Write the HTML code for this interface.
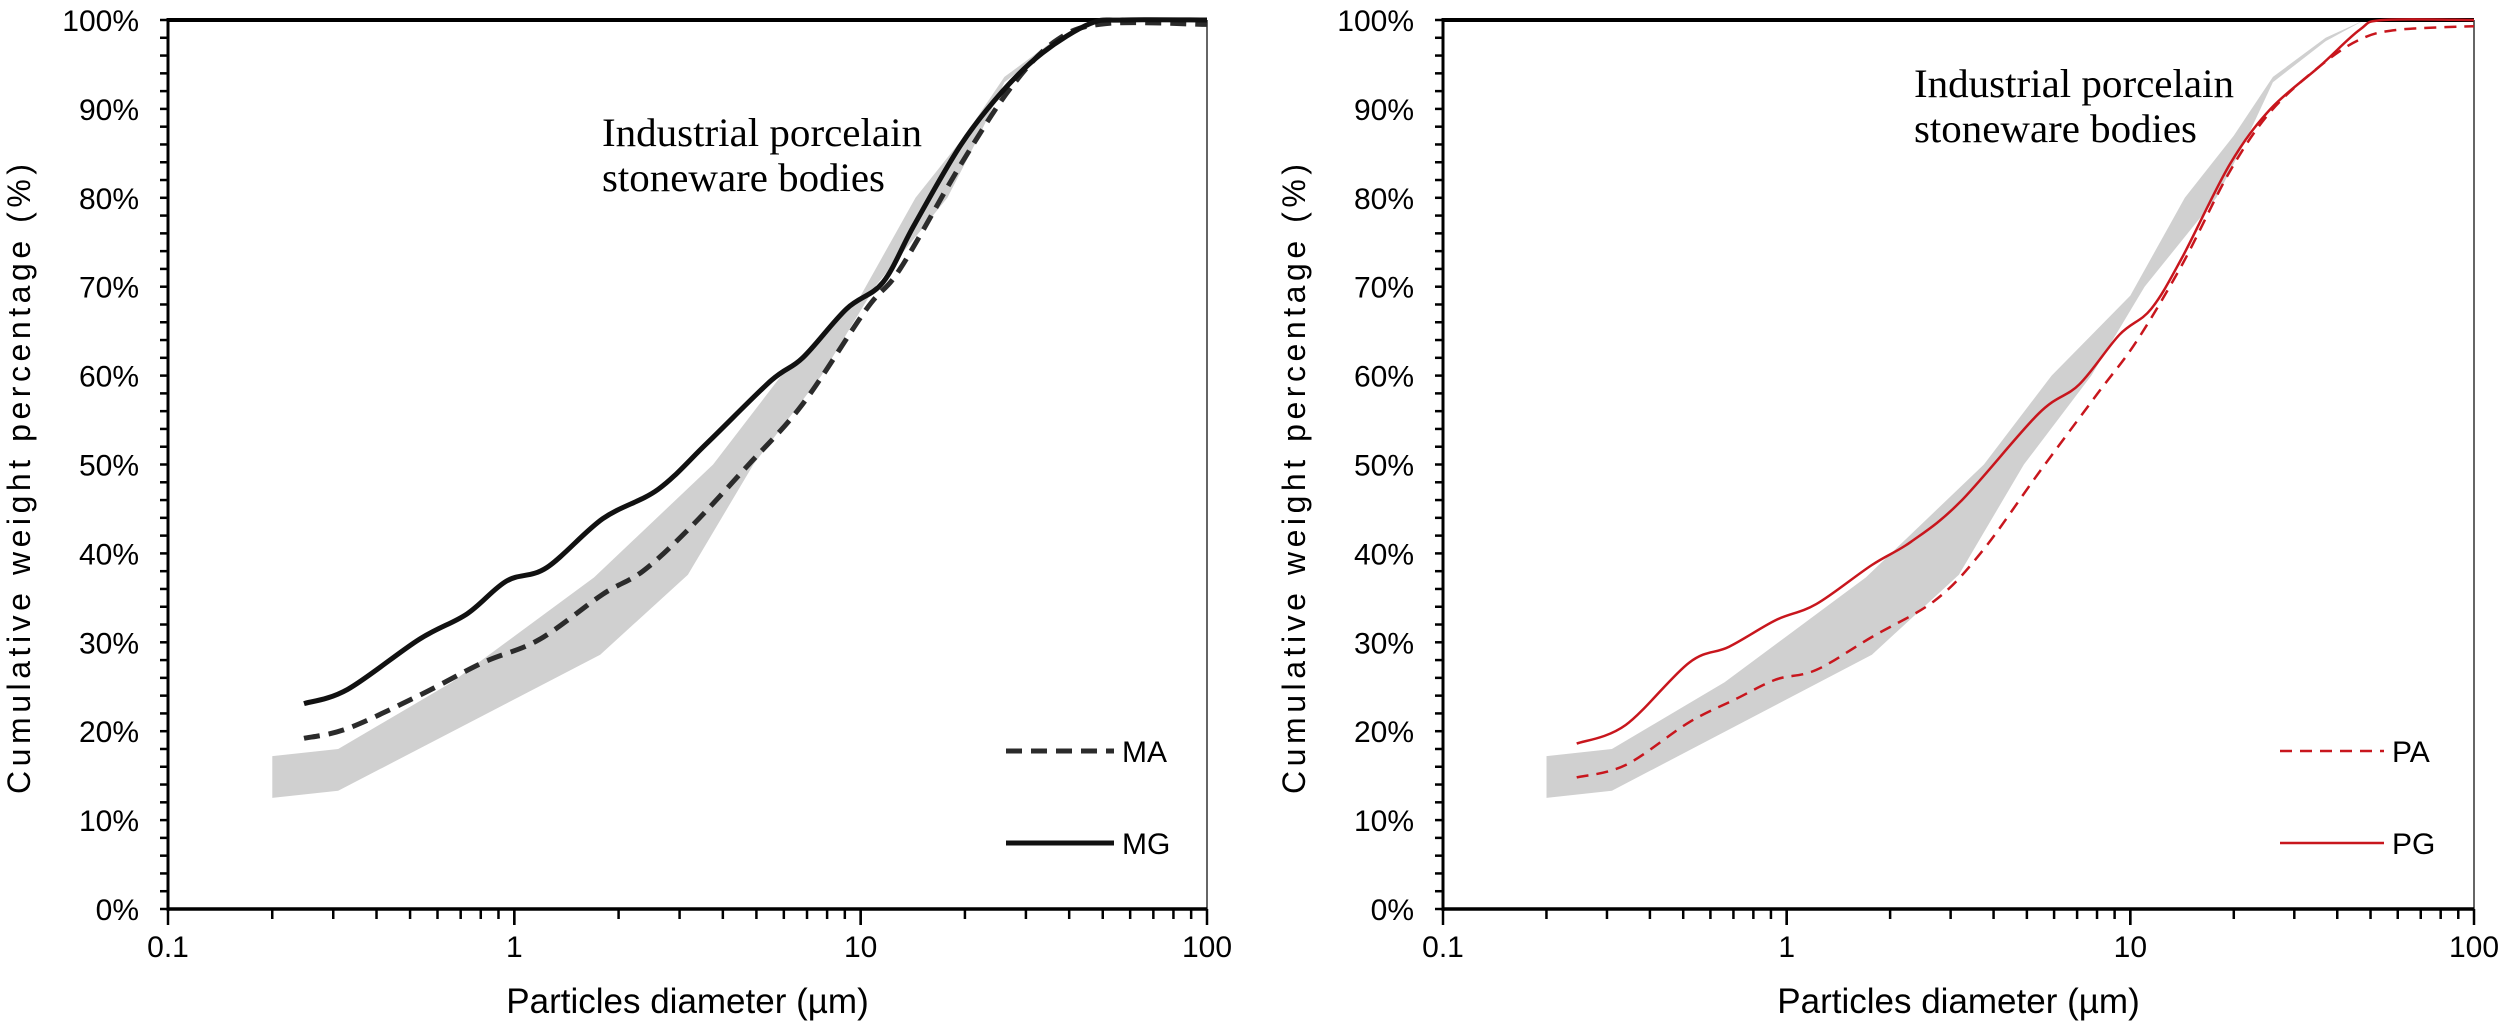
<!DOCTYPE html>
<html><head><meta charset="utf-8"><style>
html,body{margin:0;padding:0;background:#fff;}
svg{display:block;}
</style></head><body>
<svg id="chart" width="2508" height="1029" viewBox="0 0 2508 1029" xmlns="http://www.w3.org/2000/svg" font-family="Liberation Sans, sans-serif"></svg>
<script>
// ---- data ----
const xTicks = [0.1, 1, 10, 100];
const xTickLabels = ["0.1", "1", "10", "100"];
const yTicks = [0,10,20,30,40,50,60,70,80,90,100];
const bandUpperD = [0.2,0.31,0.66,1.7,3.75,5.9,10,14.4,20,26,37,48,100];
const bandUpperY = [17.2,18,25.5,37.3,50,60,69,80,87,93.6,98,100,100];
const bandLowerD = [0.2,0.31,1.77,3.17,4.9,7.7,11,17.8,22,26,37,48];
const bandLowerY = [12.5,13.3,28.6,37.6,50,60,70,80,87,93,97.6,100];
const mgD = [0.247,0.33,0.53,0.73,0.95,1.24,1.8,2.6,3.6,5.5,6.8,9.1,11.6,14.3,19.5,25.7,33.5,46,57,100];
const mgY = [23.1,24.7,30.3,33.2,36.9,38.4,43.9,47.2,52.4,59.4,62,67.5,70.5,77,86,92,96.3,99.6,100,100];
const maD = [0.247,0.33,0.53,0.81,1.18,1.8,2.35,3.2,4.7,6.8,10.4,13,19.5,27.4,37,51,100];
const maY = [19.2,20.3,24,27.7,30.3,35.4,38,42.8,49.8,56.8,67.5,72,83.8,92.6,97.8,99.6,99.5];
const pgD = [0.245,0.34,0.52,0.68,0.93,1.22,1.77,2.3,3.2,5.4,7.1,9.3,11.5,14.2,19.5,25.6,35.6,46.5,54.5,100];
const pgY = [18.6,20.7,27.7,29.5,32.5,34.3,38.7,41.3,45.8,55.7,59,64.6,67.5,73.4,83.8,90,94.8,98.9,100,100];
const paD = [0.245,0.34,0.52,0.71,0.93,1.22,1.77,2.7,3.7,5.4,8,10.4,14.2,19.5,25.6,35.6,46.5,60,100];
const paY = [14.8,16.2,21,23.6,25.8,26.9,30.6,34.7,40.2,49,57.9,63.8,72.6,83,89.7,94.8,97.8,98.9,99.3];

const NS = "http://www.w3.org/2000/svg";
const svg = document.getElementById("chart");
function mk(tag, attrs, parent){const e=document.createElementNS(NS,tag);for(const k in attrs)e.setAttribute(k,attrs[k]);(parent||svg).appendChild(e);return e;}

function smooth(pts){
  let d="M"+pts[0][0].toFixed(1)+","+pts[0][1].toFixed(1);
  for(let i=0;i<pts.length-1;i++){
    const p0=pts[Math.max(0,i-1)],p1=pts[i],p2=pts[i+1],p3=pts[Math.min(pts.length-1,i+2)];
    const c1x=p1[0]+(p2[0]-p0[0])/6,c1y=p1[1]+(p2[1]-p0[1])/6;
    const c2x=p2[0]-(p3[0]-p1[0])/6,c2y=p2[1]-(p3[1]-p1[1])/6;
    d+=" C"+c1x.toFixed(1)+","+c1y.toFixed(1)+" "+c2x.toFixed(1)+","+c2y.toFixed(1)+" "+p2[0].toFixed(1)+","+p2[1].toFixed(1);
  }
  return d;
}

function panel(cfg){
  const L=cfg.left,R=cfg.right,T=20,B=909;
  const sx=v=>L+(Math.log10(v)+1)/3*(R-L);
  const sy=v=>B-v/100*(B-T);
  const g=mk("g",{});
  
  
  // band
  const up=bandUpperD.map((d,i)=>[sx(d),sy(bandUpperY[i])]);
  const lo=bandLowerD.map((d,i)=>[sx(d),sy(bandLowerY[i])]).reverse();
  const all=up.concat(lo);
  const band=mk("path",{d:"M"+all.map(p=>p[0].toFixed(1)+","+p[1].toFixed(1)).join(" L")+" Z",fill:"#d0d0d0",stroke:"none"},g);
  
  
  // axes
  const frame=mk("path",{d:`M${L},${T} L${R},${T}`,stroke:"#000","stroke-width":4},g);
  
  
  const rl=mk("line",{x1:R,y1:T,x2:R,y2:B,stroke:"#333","stroke-width":1.5},g);
  
  
  const ya=mk("line",{x1:L,y1:T-2,x2:L,y2:B+2,stroke:"#000","stroke-width":3},g);
  
  
  const xa=mk("line",{x1:L,y1:B,x2:R,y2:B,stroke:"#000","stroke-width":3.5},g);
  
  
  for(let v=0;v<=100;v+=2){
    const t=mk("line",{x1:L-8,y1:sy(v),x2:L,y2:sy(v),stroke:"#000","stroke-width":2.5},g);
    
    
  }
  yTicks.forEach(v=>{
    const t=mk("text",{x:L-29,y:sy(v)+11,"text-anchor":"end","font-size":30,fill:"#000"},g);
    t.textContent=v+"%";
    
    
  });
  for(let e=-1;e<2;e++)for(let m=1;m<=10;m++){
    const v=m*Math.pow(10,e);
    const major=(m===1||m===10);
    const t=mk("line",{x1:sx(v),y1:B,x2:sx(v),y2:B+(major?16:10),stroke:"#000","stroke-width":2.5},g);
    
    
  }
  xTicks.forEach((v,i)=>{
    const t=mk("text",{x:sx(v),y:957,"text-anchor":"middle","font-size":30,fill:"#000"},g);
    t.textContent=xTickLabels[i];
    
    
  });
  const xt=mk("text",{x:(L+R)/2,y:1013,"text-anchor":"middle","font-size":35,fill:"#000"},g);
  xt.textContent="Particles diameter (µm)";
  
  
  const yt=mk("text",{x:0,y:0,"text-anchor":"middle","font-size":32,fill:"#000",textLength:630,lengthAdjust:"spacing",transform:`translate(${cfg.ytx},479) rotate(-90)`},g);
  yt.textContent="Cumulative weight percentage (%)";
  
  
  // annotation
  const a1=mk("text",{x:cfg.ax,y:cfg.ay,"font-family":"Liberation Serif, serif","font-size":40,fill:"#000",textLength:320,lengthAdjust:"spacingAndGlyphs"},g);
  a1.textContent="Industrial porcelain";
  
  
  const a2=mk("text",{x:cfg.ax,y:cfg.ay+45,"font-family":"Liberation Serif, serif","font-size":40,fill:"#000",textLength:283,lengthAdjust:"spacingAndGlyphs"},g);
  a2.textContent="stoneware bodies";
  
  
  // series
  const s1=mk("path",{d:smooth(cfg.aD.map((d,i)=>[sx(d),sy(cfg.aY[i])])),fill:"none",stroke:cfg.aColor,"stroke-width":cfg.w,"stroke-dasharray":cfg.dash,"stroke-linecap":"butt"},g);
  
  
  const s2=mk("path",{d:smooth(cfg.gD.map((d,i)=>[sx(d),sy(cfg.gY[i])])),fill:"none",stroke:cfg.gColor,"stroke-width":cfg.w},g);
  
  
  // legend
  const l1=mk("line",{x1:cfg.lx,y1:751,x2:cfg.lx+cfg.lw,y2:751,stroke:cfg.aColor,"stroke-width":cfg.w,"stroke-dasharray":cfg.dash},g);
  
  
  const lt1=mk("text",{x:cfg.lx+cfg.lw+8,y:762,"font-size":30,fill:"#000"},g);
  lt1.textContent=cfg.aLabel;
  
  
  const l2=mk("line",{x1:cfg.lx,y1:843,x2:cfg.lx+cfg.lw,y2:843,stroke:cfg.gColor,"stroke-width":cfg.w},g);
  
  
  const lt2=mk("text",{x:cfg.lx+cfg.lw+8,y:854,"font-size":30,fill:"#000"},g);
  lt2.textContent=cfg.gLabel;
  
  
}

panel({name:"left-panel",left:168,right:1207,ytx:30,ax:602,ay:146,
  aD:maD,aY:maY,gD:mgD,gY:mgY,aColor:"#2b2b2b",gColor:"#111",w:5,dash:"16 9",
  aName:"ma",gName:"mg",aLabel:"MA",gLabel:"MG",lx:1006,lw:108});
panel({name:"right-panel",left:1443,right:2474,ytx:1305,ax:1914,ay:97,
  aD:paD,aY:paY,gD:pgD,gY:pgY,aColor:"#c8161d",gColor:"#c8161d",w:2.5,dash:"12 8",
  aName:"pa",gName:"pg",aLabel:"PA",gLabel:"PG",lx:2280,lw:104});
</script>
</body></html>
